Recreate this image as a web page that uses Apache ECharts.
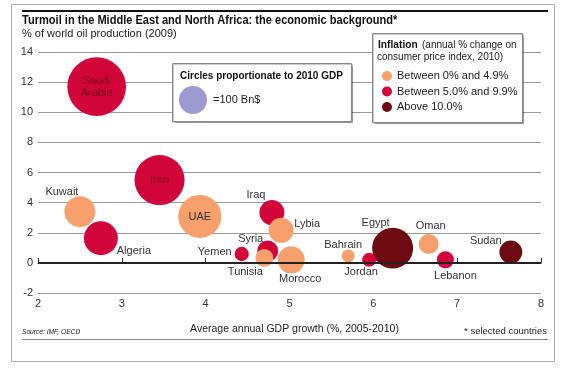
<!DOCTYPE html>
<html>
<head>
<meta charset="utf-8">
<script src="https://cdn.jsdelivr.net/npm/echarts@6/dist/echarts.min.js"></script>
<style>html,body{margin:0;padding:0;background:#fff}#c{width:570px;height:392px}</style>
</head>
<body>
<div id="c"></div>
<script>
// ---- data ----
const countries = ['Saudi Arabia','Iran','Kuwait','Algeria','UAE','Iraq','Lybia','Yemen','Syria','Tunisia','Morocco','Bahrain','Jordan','Egypt','Oman','Lebanon','Sudan'];
const gdpGrowth = [2.70, 3.45, 2.50, 2.75, 3.93, 4.79, 4.90, 4.43, 4.74, 4.70, 5.02, 5.70, 5.95, 6.23, 6.66, 6.86, 7.64];
const oilShare  = [11.7, 5.5, 3.4, 1.64, 3.08, 3.34, 2.16, 0.59, 0.79, 0.33, 0.20, 0.46, 0.20, 0.98, 1.25, 0.20, 0.72];
const gdp2010   = [440, 320, 122, 147, 236, 80, 80, 26, 56, 41, 93, 21.5, 25, 214, 51, 37, 67];
const inflationClass = [1, 1, 0, 1, 0, 1, 0, 1, 1, 0, 0, 0, 1, 2, 0, 1, 2];
const categoryNames = ['Between 0% and 4.9%', 'Between 5.0% and 9.9%', 'Above 10.0%'];
const xTicks = [2, 3, 4, 5, 6, 7, 8];
const yTicks = [-2, 0, 2, 4, 6, 8, 10, 12, 14];
const refGdp = 100; // legend circle = 100 Bn$

// ---- styling ----
const colors = ['#F7A06B', '#D2053B', '#6E0B10'];
const REF_D = 28; // diameter (px) of a 100 Bn$ circle
const sans = '"Liberation Sans", Arial, sans-serif';
const labelCfg = {
  'Saudi Arabia': {off: [0, 0], text: 'Saudi\nArabia', color: '#7a0012'},
  'Iran': {off: [0, 0], color: '#7a0012'},
  'UAE': {off: [0, 0], color: '#333'},
  'Kuwait': {off: [-18, -20]},
  'Algeria': {off: [33, 13]},
  'Iraq': {off: [-16, -18]},
  'Lybia': {off: [26, -6]},
  'Yemen': {off: [-27, -2]},
  'Syria': {off: [-17, -12]},
  'Tunisia': {off: [-19, 14]},
  'Morocco': {off: [9, 19]},
  'Bahrain': {off: [-5, -11]},
  'Jordan': {off: [-8, 12]},
  'Egypt': {off: [-17, -25]},
  'Oman': {off: [2, -18]},
  'Lebanon': {off: [10, 16]},
  'Sudan': {off: [-25, -11]}
};

const chart = echarts.init(document.getElementById('c'), null, {renderer: 'canvas'});

const drawOrder = [2, 1, 0];
const series = drawOrder.map(function (c) {
  const data = [];
  countries.forEach(function (name, i) {
    if (inflationClass[i] !== c) return;
    const cfg = labelCfg[name] || {off: [0, 0]};
    data.push({
      name: name,
      value: [gdpGrowth[i], oilShare[i], gdp2010[i]],
      label: {offset: cfg.off, color: cfg.color || '#333', formatter: cfg.text || name}
    });
  });
  return {
    type: 'scatter',
    name: categoryNames[c],
    data: data,
    symbol: 'circle',
    symbolSize: function (v) { return REF_D * Math.sqrt(v[2] / refGdp); },
    itemStyle: {color: colors[c], opacity: 1},
    label: {show: true, position: 'inside', fontFamily: sans, fontSize: 11, lineHeight: 12},
    emphasis: {disabled: true},
    silent: true,
    z: 3
  };
});
// zero line
series.push({
  type: 'line', data: [], silent: true,
  markLine: {silent: true, symbol: 'none', label: {show: false},
    lineStyle: {color: '#222', width: 2, type: 'solid'},
    data: [{yAxis: 0}]},
  z: 2
});

const option = {
  backgroundColor: '#fff',
  animation: false,
  grid: {left: 38, right: 29, top: 52, bottom: 99},
  xAxis: {
    type: 'value', min: xTicks[0], max: xTicks[xTicks.length - 1], interval: 1,
    name: 'Average annual GDP growth (%, 2005-2010)', nameLocation: 'middle', nameGap: 31,
    nameTextStyle: {fontFamily: sans, fontSize: 10.5, color: '#222', padding: [0, 0, 0, 10]},
    axisLine: {show: true, lineStyle: {color: '#333', width: 1}},
    axisTick: {show: true, inside: true, length: 5, lineStyle: {color: '#333'}},
    axisLabel: {fontFamily: sans, fontSize: 11, color: '#333', margin: 5},
    splitLine: {show: false}
  },
  yAxis: {
    type: 'value', min: yTicks[0], max: yTicks[yTicks.length - 1], interval: 2,
    axisLine: {show: false}, axisTick: {show: false},
    axisLabel: {fontFamily: sans, fontSize: 11, color: '#333', margin: 5, padding: [0, 0, 6, 0]},
    splitLine: {show: true, lineStyle: {color: '#9a9a9a', width: 1}}
  },
  legend: {
    data: categoryNames, orient: 'vertical', left: 382, top: 70.5, padding: 0,
    itemWidth: 10, itemHeight: 11, itemGap: 4.5, icon: 'circle', selectedMode: false,
    textStyle: {fontFamily: sans, fontSize: 11, color: '#222'}, z: 20
  },
  series: series,
  graphic: [
    {type: 'rect', shape: {x: 11.5, y: 4.5, width: 543, height: 357}, style: {fill: 'none', stroke: '#b0b0b0', lineWidth: 1}, z: 1, silent: true},
    {type: 'line', shape: {x1: 22, y1: 11, x2: 548, y2: 11}, style: {stroke: '#111', lineWidth: 2}, silent: true},
    {type: 'text', x: 22, y: 21, scaleX: 0.885, style: {text: 'Turmoil in the Middle East and North Africa: the economic background*', font: 'bold 12.5px ' + sans, fill: '#111', verticalAlign: 'middle'}, silent: true},
    {type: 'text', x: 22, y: 34, style: {text: '% of world oil production (2009)', font: '11px ' + sans, fill: '#222', verticalAlign: 'middle'}, silent: true},
    {type: 'line', shape: {x1: 22, y1: 339.5, x2: 548, y2: 339.5}, style: {stroke: '#888', lineWidth: 1}, silent: true},
    {type: 'text', x: 22, y: 332, scaleX: 0.83, style: {text: 'Source: IMF, OECD', font: 'italic 8px ' + sans, fill: '#222', verticalAlign: 'middle'}, silent: true},
    {type: 'text', x: 547, y: 331, style: {text: '* selected countries', font: '9.5px ' + sans, fill: '#222', align: 'right', verticalAlign: 'middle'}, silent: true},
    // GDP size box
    {type: 'rect', shape: {x: 172.5, y: 63.5, width: 179, height: 58}, style: {fill: '#fff', stroke: '#888', lineWidth: 1, shadowColor: 'rgba(0,0,0,0.25)', shadowOffsetX: 1, shadowOffsetY: 1, shadowBlur: 1}, z: 10, silent: true},
    {type: 'text', x: 180, y: 76, scaleX: 0.87, style: {text: 'Circles proportionate to 2010 GDP', font: 'bold 11.5px ' + sans, fill: '#111', verticalAlign: 'middle'}, z: 11, silent: true},
    {type: 'circle', shape: {cx: 193, cy: 100, r: REF_D / 2}, style: {fill: '#9D9AD2'}, z: 11, silent: true},
    {type: 'text', x: 213, y: 100, style: {text: '=' + refGdp + ' Bn$', font: '11px ' + sans, fill: '#222', verticalAlign: 'middle'}, z: 11, silent: true},
    // inflation box
    {type: 'rect', shape: {x: 372.5, y: 33.5, width: 150, height: 89}, style: {fill: '#fff', stroke: '#888', lineWidth: 1, shadowColor: 'rgba(0,0,0,0.25)', shadowOffsetX: 1, shadowOffsetY: 1, shadowBlur: 1}, z: 10, silent: true},
    {type: 'text', x: 378, y: 45, scaleX: 0.89, style: {text: 'Inflation', font: 'bold 11.5px ' + sans, fill: '#111', verticalAlign: 'middle'}, z: 11, silent: true},
    {type: 'text', x: 422, y: 45, style: {text: '(annual % change on', font: '10px ' + sans, fill: '#222', verticalAlign: 'middle'}, z: 11, silent: true},
    {type: 'text', x: 377, y: 57, style: {text: 'consumer price index, 2010)', font: '10px ' + sans, fill: '#222', verticalAlign: 'middle'}, z: 11, silent: true}
  ]
};
chart.setOption(option);
</script>
</body>
</html>
